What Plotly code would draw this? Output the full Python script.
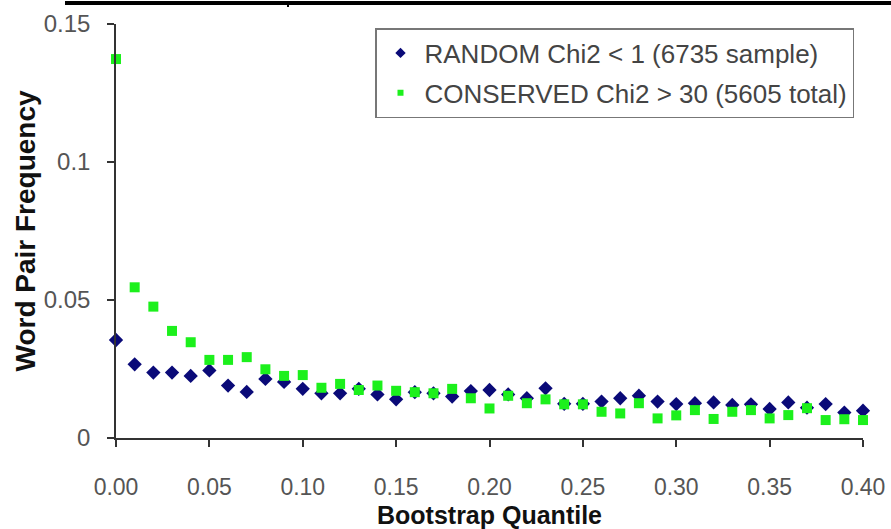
import plotly.graph_objects as go

quantiles = [0.00, 0.01, 0.02, 0.03, 0.04, 0.05, 0.06, 0.07, 0.08, 0.09,
             0.10, 0.11, 0.12, 0.13, 0.14, 0.15, 0.16, 0.17, 0.18, 0.19,
             0.20, 0.21, 0.22, 0.23, 0.24, 0.25, 0.26, 0.27, 0.28, 0.29,
             0.30, 0.31, 0.32, 0.33, 0.34, 0.35, 0.36, 0.37, 0.38, 0.39, 0.40]

random_freq = [0.0355, 0.0267, 0.0237, 0.0237, 0.0225, 0.0245, 0.0190, 0.0167, 0.0214, 0.0203,
               0.0178, 0.0162, 0.0162, 0.0178, 0.0158, 0.0140, 0.0166, 0.0162, 0.0150, 0.0170,
               0.0174, 0.0158, 0.0144, 0.0180, 0.0124, 0.0124, 0.0132, 0.0144, 0.0153, 0.0132,
               0.0123, 0.0126, 0.0129, 0.0120, 0.0122, 0.0105, 0.0129, 0.0110, 0.0123, 0.0092, 0.0099]

conserved_freq = [0.1373, 0.0546, 0.0476, 0.0388, 0.0347, 0.0283, 0.0283, 0.0293, 0.0249, 0.0225,
                  0.0228, 0.0182, 0.0196, 0.0174, 0.0190, 0.0171, 0.0166, 0.0162, 0.0178, 0.0144,
                  0.0107, 0.0153, 0.0126, 0.0140, 0.0122, 0.0122, 0.0095, 0.0089, 0.0126, 0.0071,
                  0.0082, 0.0101, 0.0069, 0.0095, 0.0101, 0.0071, 0.0083, 0.0108, 0.0065, 0.0068, 0.0065]

series_names = ["RANDOM Chi2 < 1 (6735 sample)", "CONSERVED Chi2 > 30 (5605 total)"]
y_tick_vals = [0, 0.05, 0.1, 0.15]
y_tick_text = ["0", "0.05", "0.1", "0.15"]
x_tick_vals = [0.00, 0.05, 0.10, 0.15, 0.20, 0.25, 0.30, 0.35, 0.40]
x_tick_text = ["0.00", "0.05", "0.10", "0.15", "0.20", "0.25", "0.30", "0.35", "0.40"]

BLUE = "#0a0a78"
GREEN = "#1cf01c"
FONT = "Liberation Sans, Arial, sans-serif"

fig = go.Figure()
fig.add_trace(go.Scatter(x=quantiles, y=random_freq, mode="markers", showlegend=False,
                         marker=dict(symbol="diamond", size=11, color=BLUE), cliponaxis=False))
fig.add_trace(go.Scatter(x=quantiles, y=conserved_freq, mode="markers", showlegend=False,
                         marker=dict(symbol="square", size=10, color=GREEN), cliponaxis=False))
# legend entries with small markers
fig.add_trace(go.Scatter(x=[None], y=[None], mode="markers", name=series_names[0],
                         legendgroup="a", marker=dict(symbol="diamond", size=8, color=BLUE)))
fig.add_trace(go.Scatter(x=[None], y=[None], mode="markers", name=series_names[1],
                         legendgroup="b", marker=dict(symbol="square", size=6, color=GREEN)))

L, R, T, B = 116, 28, 24, 91
W, H = 891, 529
pw = W - L - R
ph = H - T - B

fig.update_layout(
    width=W, height=H,
    margin=dict(l=L, r=R, t=T, b=B, pad=0, autoexpand=False),
    paper_bgcolor="white", plot_bgcolor="white",
    font=dict(family=FONT, color="#444444"),
    legend=dict(x=(375 - L) / pw, y=(H - B - 28) / ph, xanchor="left", yanchor="top",
                bgcolor="white", bordercolor="#777777", borderwidth=1.5,
                font=dict(size=26, color="#444444", family=FONT),
                traceorder="grouped", tracegroupgap=3, itemwidth=38),
    xaxis=dict(range=[0, 0.40], tickvals=x_tick_vals, ticktext=x_tick_text, automargin=False,
               showgrid=False, zeroline=False, showline=True, linecolor="#333333", linewidth=1.5,
               ticks="outside", ticklen=7, tickcolor="#333333", tickwidth=1.5,
               ticklabelstandoff=21, tickfont=dict(size=23, color="#555555"),
               title=dict(text="<b>Bootstrap Quantile</b>", standoff=7,
                          font=dict(size=25, color="#111111"))),
    yaxis=dict(range=[0, 0.15], tickvals=y_tick_vals, ticktext=y_tick_text, automargin=False,
               showgrid=False, zeroline=False, showline=True, linecolor="#333333", linewidth=1.5,
               ticks="outside", ticklen=7, tickcolor="#333333", tickwidth=1.5,
               ticklabelstandoff=12, tickfont=dict(size=24, color="#555555"),
               title=dict(text="<b>Word Pair Frequency</b>", standoff=0,
                          font=dict(size=28, color="#111111"))),
    shapes=[
        dict(type="line", xref="paper", yref="paper",
             x0=(65 - L) / pw, x1=(W - L) / pw + 0.01,
             y0=(H - B - 3) / ph, y1=(H - B - 3) / ph,
             line=dict(color="black", width=4)),
        dict(type="line", xref="paper", yref="paper",
             x0=(288 - L) / pw, x1=(288 - L) / pw,
             y0=(H - B - 3) / ph, y1=(H - B - 7) / ph,
             line=dict(color="black", width=2)),
    ],
)

fig.write_html("out.html", config={"displayModeBar": False},
               post_script="document.body.style.margin='0';document.body.style.padding='0';"
                           "document.body.style.overflow='hidden';")
